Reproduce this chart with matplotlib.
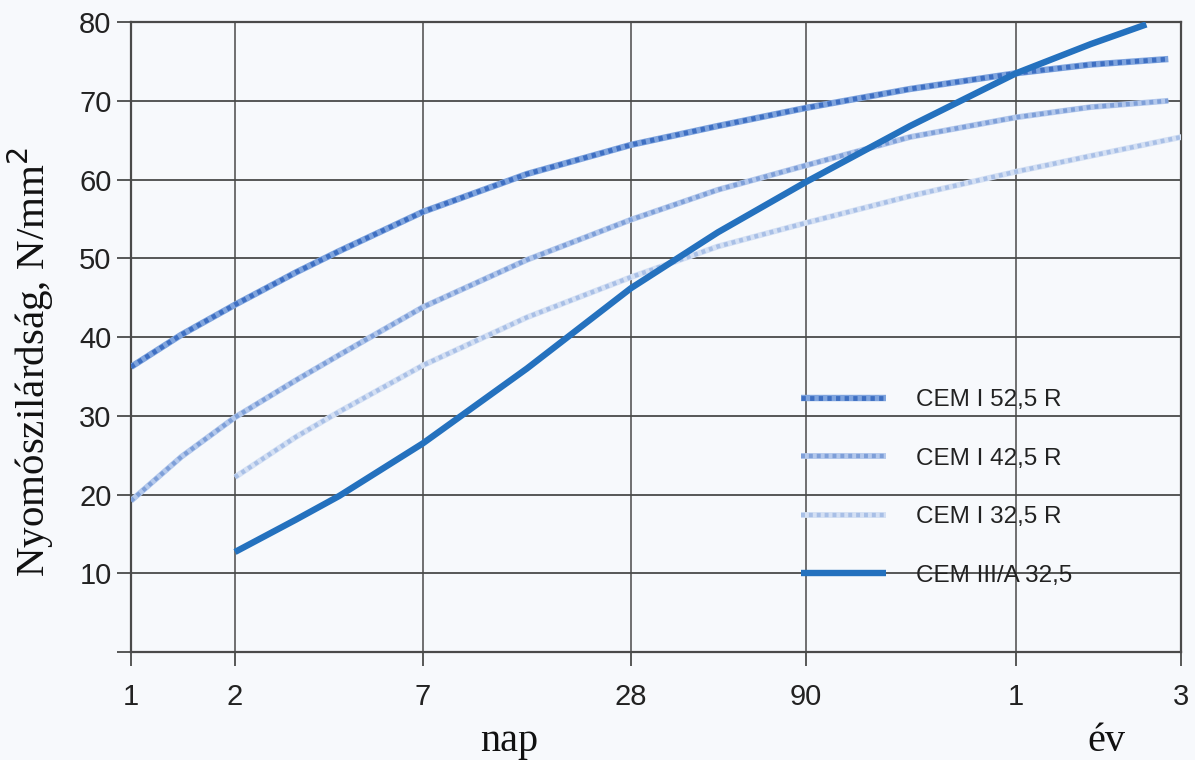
import matplotlib
matplotlib.use("Agg")
import matplotlib.pyplot as plt
from matplotlib.legend_handler import HandlerTuple

# Age of the concrete in days (log scale) and compressive strength in N/mm2
days_525 = [1, 1.4, 2, 3, 4, 7, 14, 28, 50, 90, 180, 365, 600, 1006]
cem_525 = [36.2, 40.3, 44.1, 48.2, 50.9, 55.9, 60.7, 64.4, 66.8, 69.1, 71.5, 73.5, 74.6, 75.3]

days_425 = [1, 1.4, 2, 3, 4, 7, 14, 28, 50, 90, 180, 365, 600, 1006]
cem_425 = [19.2, 24.8, 29.8, 34.5, 37.7, 43.8, 49.8, 54.9, 58.7, 61.8, 65.4, 67.9, 69.2, 70.0]

days_325 = [2, 3, 4, 7, 14, 28, 50, 90, 180, 365, 600, 1098]
cem_325 = [22.2, 27.3, 30.5, 36.4, 42.5, 47.6, 51.5, 54.5, 57.9, 61.0, 63.0, 65.4]

days_3a = [2, 3, 4, 7, 14, 28, 50, 90, 180, 365, 600, 869]
cem_3a = [12.7, 16.8, 19.8, 26.5, 36.0, 46.2, 53.3, 59.7, 66.8, 73.5, 77.2, 79.7]

labels = ["CEM I 52,5 R", "CEM I 42,5 R", "CEM I 32,5 R", "CEM III/A 32,5"]

x_ticks = [1, 2, 7, 28, 90, 365, 1095]
x_ticklabels = ["1", "2", "7", "28", "90", "1", "3"]
y_ticks = [0, 10, 20, 30, 40, 50, 60, 70, 80]
y_ticklabels = ["", "10", "20", "30", "40", "50", "60", "70", "80"]

bg = "#f7f9fc"
grid_c = "#4a4a4a"

fig = plt.figure(figsize=(11.95, 7.6), dpi=100, facecolor=bg)
ax = fig.add_axes([0.1096, 0.1421, 0.8787, 0.8289])
ax.set_facecolor(bg)

ax.set_xscale("log")
ax.set_xlim(1, 1095)
ax.set_ylim(0, 80)

# grid
for v in y_ticks[1:]:
    ax.axhline(v, color=grid_c, lw=1.3, zorder=1)
for v in x_ticks[1:-1]:
    ax.axvline(v, color=grid_c, lw=1.1, zorder=1)
for s in ax.spines.values():
    s.set_color(grid_c)
    s.set_linewidth(1.6)

# twisted-rope look: light base stroke with short dark dashes on top
def rope(x, y, base, dark, lw):
    b, = ax.plot(x, y, color=base, lw=lw, solid_capstyle="butt", zorder=3)
    d, = ax.plot(x, y, color=dark, lw=lw * 0.75, dashes=(0.9, 0.9),
                 solid_capstyle="butt", dash_capstyle="butt", zorder=4)
    return (b, d)

h1 = rope(days_525, cem_525, "#7fa4de", "#3e6fc2", 4.6)
h2 = rope(days_425, cem_425, "#b3c8ec", "#7e9fd8", 4.2)
h3 = rope(days_325, cem_325, "#d4e0f4", "#a8bfe6", 4.2)
h4, = ax.plot(days_3a, cem_3a, color="#2471be", lw=4.6, solid_capstyle="butt", zorder=5)

ax.set_xticks(x_ticks)
ax.set_xticklabels(x_ticklabels)
ax.xaxis.set_minor_locator(matplotlib.ticker.NullLocator())
ax.set_yticks(y_ticks)
ax.set_yticklabels(y_ticklabels)
ax.tick_params(axis="both", direction="out", length=10, width=1.3, color=grid_c,
               labelsize=21, labelcolor="#222222")
ax.tick_params(axis="x", pad=12)
ax.tick_params(axis="y", pad=4)
for t in ax.get_xticklabels() + ax.get_yticklabels():
    t.set_family("Liberation Sans")

ax.set_ylabel("Nyomószilárdság, N/mm$^2$", family="Liberation Serif", fontsize=29.5,
              color="#111111")
ax.yaxis.set_label_coords(-0.071, 0.46)
fig.text(0.426, 0.012, "nap", family="Liberation Serif", fontsize=29, ha="center",
         va="baseline", color="#111111")
fig.text(0.926, 0.012, "év", family="Liberation Serif", fontsize=29, ha="center",
         va="baseline", color="#111111")

leg = ax.legend([h1, h2, h3, h4], labels, handler_map={tuple: HandlerTuple(ndivide=1)},
                loc="upper left", bbox_to_anchor=(0.617, 0.452), frameon=False,
                prop={"family": "Liberation Sans", "size": 17.5}, handlelength=3.5,
                handletextpad=1.25, labelspacing=1.5, borderpad=0.4)
for t in leg.get_texts():
    t.set_color("#222222")

fig.savefig("out.png", dpi=100, facecolor=bg)
